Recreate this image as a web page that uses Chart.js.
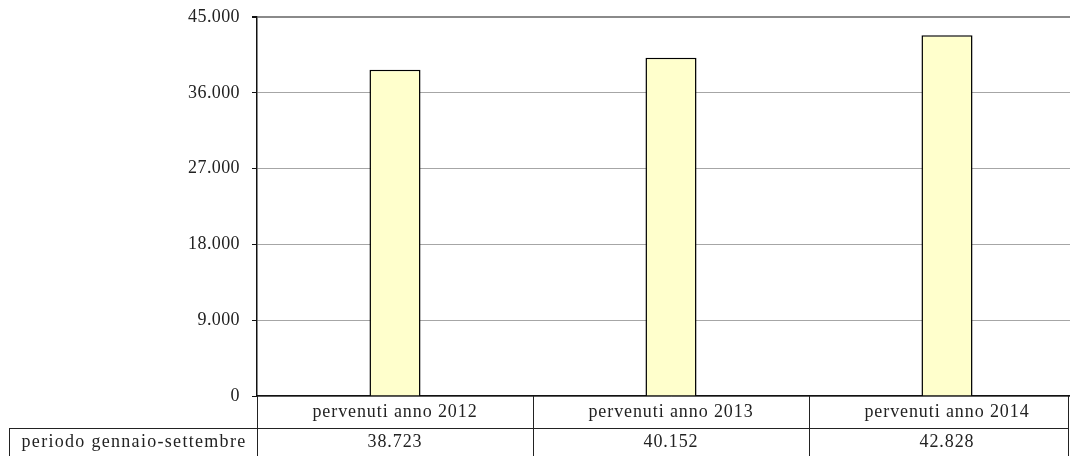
<!DOCTYPE html>
<html>
<head>
<meta charset="utf-8">
<script src="https://cdn.jsdelivr.net/npm/chart.js@4.4.1/dist/chart.umd.min.js"></script>
<style>
  body { margin: 0; background: #fff; }
  #clip { width: 1070px; height: 456px; overflow: hidden; }
  #wrap { width: 1086px; height: 456px; position: relative; }
</style>
</head>
<body>
<div id="clip"><div id="wrap"><canvas id="chart"></canvas></div></div>
<script>
var categories = ['pervenuti anno 2012', 'pervenuti anno 2013', 'pervenuti anno 2014'];
var seriesName = 'periodo gennaio-settembre';
var values = [38723, 40152, 42828];
var yTicks = [0, 9000, 18000, 27000, 36000, 45000];

var FONT = '"Liberation Serif", "Times New Roman", serif';

function fmt(v) {
    return String(v).replace(/\B(?=(\d{3})+(?!\d))/g, '.');
}

// slightly looser tracking for all canvas text
var spacingPlugin = {
    id: 'spacing',
    beforeDraw: function (chart) { chart.ctx.letterSpacing = '0.4px'; }
};

// data table under the x axis (category row + value row)
var tablePlugin = {
    id: 'dataTable',
    afterDraw: function (chart) {
        var ctx = chart.ctx;
        var area = chart.chartArea;
        var xs = chart.scales.x;
        var n = categories.length;
        var colW = (area.right - area.left) / n;
        var top = area.bottom;
        var mid = top + 32;
        var bottom = chart.height;
        var rightEdge = 1068;
        var labelLeft = 9;

        ctx.save();
        ctx.strokeStyle = '#222';
        ctx.lineWidth = 1;
        ctx.beginPath();
        // y axis continues through the table
        ctx.moveTo(area.left + 0.5, top);
        ctx.lineTo(area.left + 0.5, bottom);
        for (var i = 1; i < n; i++) {
            var xb = Math.round(area.left + colW * i) + 0.5;
            ctx.moveTo(xb, top);
            ctx.lineTo(xb, bottom);
        }
        ctx.moveTo(rightEdge + 0.5, top);
        ctx.lineTo(rightEdge + 0.5, bottom);
        ctx.moveTo(labelLeft, mid + 0.5);
        ctx.lineTo(rightEdge + 1, mid + 0.5);
        ctx.moveTo(labelLeft + 0.5, mid);
        ctx.lineTo(labelLeft + 0.5, bottom);
        ctx.stroke();

        ctx.fillStyle = '#222';
        ctx.font = '18px ' + FONT;
        ctx.letterSpacing = '0.9px';
        ctx.textAlign = 'center';
        ctx.textBaseline = 'middle';
        for (var j = 0; j < n; j++) {
            var cx = xs.getPixelForValue(j);
            ctx.fillText(categories[j], cx, top + 16);
            ctx.fillText(fmt(values[j]), cx, mid + 14);
        }
        ctx.letterSpacing = '1.3px';
        ctx.fillText(seriesName, (labelLeft + area.left) / 2 + 1, mid + 14);
        ctx.restore();
    }
};

var ctx = document.getElementById('chart').getContext('2d');
var myChart = new Chart(ctx, {
    type: 'bar',
    data: {
        labels: categories,
        datasets: [{
            label: seriesName,
            data: values,
            backgroundColor: '#FFFFCC',
            borderColor: '#000',
            borderWidth: 1.5,
            borderSkipped: 'bottom',
            barPercentage: 0.185,
            categoryPercentage: 1
        }]
    },
    options: {
        responsive: true,
        maintainAspectRatio: false,
        animation: false,
        layout: { padding: { top: 17, right: 1, bottom: 60, left: 0 } },
        plugins: {
            legend: { display: false },
            tooltip: { enabled: false }
        },
        scales: {
            x: {
                grid: { display: false },
                ticks: { display: false },
                border: { display: true, color: '#111', width: 1.5 },
                afterFit: function (s) { s.height = 0; }
            },
            y: {
                min: 0,
                max: 45000,
                afterBuildTicks: function (s) {
                    s.ticks = yTicks.map(function (v) { return { value: v }; });
                },
                afterFit: function (s) {
                    s.width = 257;
                    s.paddingTop = 0;
                    s.paddingBottom = 0;
                },
                ticks: {
                    padding: 12,
                    color: '#222',
                    font: { family: FONT, size: 18, lineHeight: 1 },
                    callback: function (v) { return fmt(v); }
                },
                grid: {
                    tickLength: 5,
                    tickColor: '#111',
                    color: function (c) { return c.tick && c.tick.value === 45000 ? '#8a8a8a' : '#a6a6a6'; },
                    lineWidth: function (c) { return c.tick && c.tick.value === 45000 ? 2 : 1; }
                },
                border: { color: '#111', width: 1.5 }
            }
        }
    },
    plugins: [spacingPlugin, tablePlugin]
});
</script>
</body>
</html>
